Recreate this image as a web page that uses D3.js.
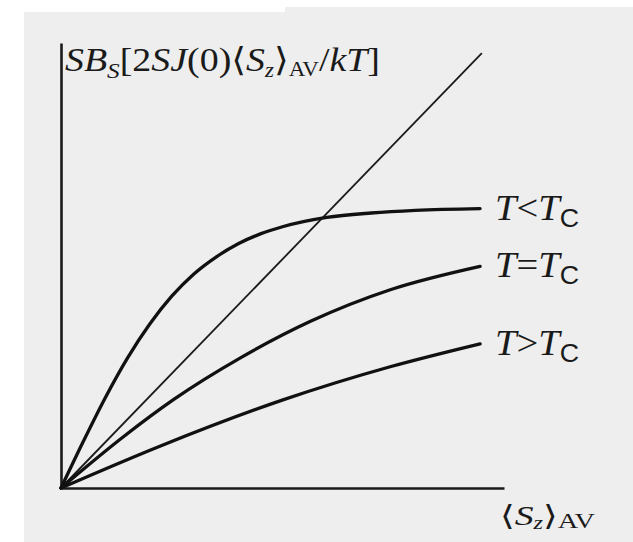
<!DOCTYPE html>
<html>
<head>
<meta charset="utf-8">
<script src="https://cdn.jsdelivr.net/npm/d3@7"></script>
<style>
  html, body { margin: 0; padding: 0; background: #ffffff; }
  svg { display: block; }
  text { font-family: "Liberation Serif", "DejaVu Serif", serif; fill: #1a1a1a; }
</style>
</head>
<body>
<svg id="chart" width="633" height="542"></svg>
<script>
// Brillouin-function construction: left side S·B_S(...) vs <S_z>_AV,
// for three temperatures, with the straight line <S_z>_AV itself.
const seriesNames = ["T<Tc", "T=Tc", "T>Tc"];

const belowTcX = [0, 5, 10, 15, 20, 25, 30, 35, 40, 45, 50, 60, 70, 80, 94.6];
const belowTcY = [0, 10.4, 20.3, 29.2, 36.8, 43.1, 48.1, 51.9, 54.9, 57.1, 58.7, 60.8, 61.8, 62.4, 62.8];

const atTcX = [0, 13.8, 25.3, 40.6, 56.2, 74.5, 94.6];
const atTcY = [0, 11.3, 19.8, 29.3, 37.4, 44.6, 49.8];

const aboveTcX = [0, 22.6, 50.1, 74.5, 94.6];
const aboveTcY = [0, 9.5, 19.8, 27.3, 32.4];

// straight line y = <S_z>_AV
const diagonalX = [0, 95.0];
const diagonalY = [0, 97.7];

const svg = d3.select("#chart");
const W = 633, H = 542;

// paper panel
svg.append("rect").attr("x", 0).attr("y", 0).attr("width", W).attr("height", H).attr("fill", "#ffffff");
svg.append("rect").attr("x", 24).attr("y", 12).attr("width", W - 24).attr("height", H - 12).attr("fill", "#eeeeee");
svg.append("rect").attr("x", 285).attr("y", 7).attr("width", W - 285).attr("height", 6).attr("fill", "#eeeeee");

const x = d3.scaleLinear().domain([0, 100]).range([61, 504]);
const y = d3.scaleLinear().domain([0, 100]).range([488, 43]);

// axes: bare lines, no ticks
const xAxis = svg.append("g").attr("transform", `translate(0,${y(0)})`)
  .call(d3.axisBottom(x).ticks(0).tickSize(0).tickSizeOuter(0));
const yAxis = svg.append("g").attr("transform", `translate(${x(0)},0)`)
  .call(d3.axisLeft(y).ticks(0).tickSize(0).tickSizeOuter(0));
[xAxis, yAxis].forEach(g => {
  g.select(".domain").attr("stroke", "#1a1a1a").attr("stroke-width", 2.6);
  g.selectAll("text").remove();
});

const line = d3.line().x(d => x(d[0])).y(d => y(d[1])).curve(d3.curveMonotoneX);
const zipXY = (xs, ys) => xs.map((v, i) => [v, ys[i]]);

// diagonal
svg.append("path")
  .attr("d", line(zipXY(diagonalX, diagonalY)))
  .attr("fill", "none").attr("stroke", "#1a1a1a").attr("stroke-width", 1.8);

const curves = [
  { name: seriesNames[0], pts: zipXY(belowTcX, belowTcY), rel: "<" },
  { name: seriesNames[1], pts: zipXY(atTcX, atTcY), rel: "=" },
  { name: seriesNames[2], pts: zipXY(aboveTcX, aboveTcY), rel: ">" }
];

curves.forEach(c => {
  svg.append("path")
    .attr("d", line(c.pts))
    .attr("fill", "none").attr("stroke", "#111111").attr("stroke-width", 3.3)
    .attr("stroke-linecap", "round");
  const end = c.pts[c.pts.length - 1];
  const t = svg.append("text")
    .attr("x", x(end[0]) + 15).attr("y", y(end[1]) + 11)
    .attr("font-size", 36)
    .attr("textLength", 84).attr("lengthAdjust", "spacingAndGlyphs");
  t.append("tspan").attr("font-style", "italic").text("T");
  t.append("tspan").text(c.rel);
  t.append("tspan").attr("font-style", "italic").text("T");
  t.append("tspan").attr("font-family", "'Liberation Sans', 'DejaVu Sans', sans-serif")
    .attr("font-size", 25).attr("dy", 7).text("C");
});

// y-axis title: SB_S[2SJ(0)<S_z>_AV/kT]
const yt = svg.append("text").attr("x", 65).attr("y", 71).attr("font-size", 33)
  .attr("textLength", 315).attr("lengthAdjust", "spacingAndGlyphs");
yt.append("tspan").attr("font-style", "italic").text("SB");
yt.append("tspan").attr("font-style", "italic").attr("font-size", 22).attr("dy", 7).text("S");
yt.append("tspan").attr("dy", -7).text("[2");
yt.append("tspan").attr("font-style", "italic").text("SJ");
yt.append("tspan").text("(0)\u27E8");
yt.append("tspan").attr("font-style", "italic").text("S");
yt.append("tspan").attr("font-style", "italic").attr("font-size", 20).attr("dy", 6).text("z");
yt.append("tspan").attr("dy", -6).text("\u27E9");
yt.append("tspan").attr("font-size", 20).attr("dy", 5).text("AV");
yt.append("tspan").attr("dy", -5).text("/");
yt.append("tspan").attr("font-style", "italic").text("kT");
yt.append("tspan").text("]");

// x-axis title: <S_z>_AV
const xt = svg.append("text").attr("x", 500).attr("y", 525).attr("font-size", 28)
  .attr("textLength", 95).attr("lengthAdjust", "spacingAndGlyphs");
xt.append("tspan").text("\u27E8");
xt.append("tspan").attr("font-style", "italic").text("S");
xt.append("tspan").attr("font-style", "italic").attr("font-size", 18).attr("dy", 4).text("z");
xt.append("tspan").attr("dy", -4).text("\u27E9");
xt.append("tspan").attr("font-size", 21).attr("dy", 3).text("AV");
</script>
</body>
</html>
